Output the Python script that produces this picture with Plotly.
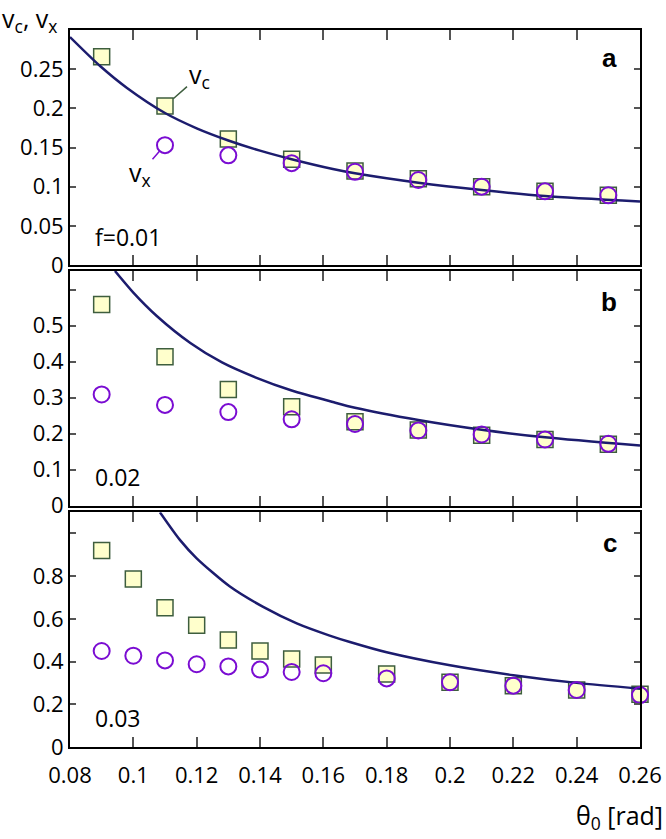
import plotly.graph_objects as go

# ---------------- data ----------------
theta_ab = [0.09, 0.11, 0.13, 0.15, 0.17, 0.19, 0.21, 0.23, 0.25]
vc_a = [0.266, 0.203, 0.161, 0.135, 0.120, 0.110, 0.100, 0.094, 0.089]
theta_vx_a = [0.11, 0.13, 0.15, 0.17, 0.19, 0.21, 0.23, 0.25]
vx_a = [0.153, 0.140, 0.130, 0.119, 0.1085, 0.100, 0.094, 0.089]

vc_b = [0.559, 0.414, 0.323, 0.275, 0.233, 0.210, 0.196, 0.184, 0.171]
vx_b = [0.309, 0.280, 0.260, 0.240, 0.227, 0.209, 0.198, 0.184, 0.172]

theta_c = [0.09, 0.10, 0.11, 0.12, 0.13, 0.14, 0.15, 0.16, 0.18, 0.20, 0.22, 0.24, 0.26]
vc_c = [0.919, 0.786, 0.652, 0.570, 0.501, 0.450, 0.413, 0.385, 0.343, 0.304, 0.288, 0.268, 0.248]
vx_c = [0.450, 0.428, 0.406, 0.388, 0.378, 0.363, 0.352, 0.346, 0.322, 0.304, 0.288, 0.268, 0.244]

curve_a_x = [0.08, 0.0895, 0.098, 0.11, 0.12, 0.13, 0.14, 0.15, 0.163, 0.17, 0.19, 0.21, 0.23, 0.26]
curve_a_y = [0.291, 0.254, 0.226, 0.194, 0.1745, 0.159, 0.146, 0.135, 0.1225, 0.117, 0.105, 0.0957, 0.088, 0.081]

curve_b_x = [0.0942, 0.1, 0.1074, 0.118, 0.128, 0.1387, 0.15, 0.163, 0.17, 0.19, 0.21, 0.23, 0.26]
curve_b_y = [0.652, 0.592, 0.527, 0.452, 0.398, 0.356, 0.320, 0.288, 0.272, 0.238, 0.211, 0.190, 0.167]

curve_c_x = [0.1084, 0.1147, 0.12, 0.1305, 0.141, 0.1516, 0.162, 0.1684, 0.18, 0.20, 0.22, 0.24, 0.26]
curve_c_y = [1.098, 0.969, 0.883, 0.751, 0.656, 0.579, 0.522, 0.492, 0.444, 0.383, 0.337, 0.301, 0.274]

x_tickvals = [0.08, 0.10, 0.12, 0.14, 0.16, 0.18, 0.20, 0.22, 0.24, 0.26]
x_ticktext = ["0.08", "0.1", "0.12", "0.14", "0.16", "0.18", "0.2", "0.22", "0.24", "0.26"]
ya_tickvals = [0, 0.05, 0.10, 0.15, 0.20, 0.25, 0.30]
ya_ticktext = ["0", "0.05", "0.1", "0.15", "0.2", "0.25", ""]
yb_tickvals = [0, 0.1, 0.2, 0.3, 0.4, 0.5, 0.6]
yb_ticktext = ["0", "0.1", "0.2", "0.3", "0.4", "0.5", ""]
yc_tickvals = [0, 0.2, 0.4, 0.6, 0.8, 1.0]
yc_ticktext = ["0", "0.2", "0.4", "0.6", "0.8", ""]

panel_labels = ["a", "b", "c"]
f_labels = ["f=0.01", "0.02", "0.03"]

# ---------------- styles ----------------
W, H = 666, 839
SQ_FILL = "#FFFFCC"
SQ_LINE = "#3E5E3E"
CIRC = "#7A0CD2"
CURVE = "#1C1C6E"
FONT = "Open Sans"

def px_x(p):
    return p / W

def px_y(p):
    return 1 - p / H

xdom = [px_x(70), px_x(640)]
ydoms = [[px_y(265), px_y(30)], [px_y(505.7), px_y(271)], [px_y(747.3), px_y(512.3)]]
yranges = [[0, 0.30], [0, 0.652], [0, 1.098]]
yticks = [(ya_tickvals, ya_ticktext), (yb_tickvals, yb_ticktext), (yc_tickvals, yc_ticktext)]

fig = go.Figure()

panels = [
    (theta_ab, vc_a, theta_vx_a, vx_a, curve_a_x, curve_a_y),
    (theta_ab, vc_b, theta_ab, vx_b, curve_b_x, curve_b_y),
    (theta_c, vc_c, theta_c, vx_c, curve_c_x, curve_c_y),
]

for i, (tx, vc, txx, vx, cx, cy) in enumerate(panels):
    xa = "x" if i == 0 else f"x{i+1}"
    ya = "y" if i == 0 else f"y{i+1}"
    fig.add_trace(go.Scatter(x=tx, y=vc, mode="markers", xaxis=xa, yaxis=ya,
                             marker=dict(symbol="square", size=16, color=SQ_FILL,
                                         line=dict(color=SQ_LINE, width=1.5)),
                             showlegend=False, cliponaxis=False))
    fig.add_trace(go.Scatter(x=cx, y=cy, mode="lines", xaxis=xa, yaxis=ya,
                             line=dict(color=CURVE, width=2.5, shape="spline", smoothing=0.7),
                             showlegend=False))
    fig.add_trace(go.Scatter(x=txx, y=vx, mode="markers", xaxis=xa, yaxis=ya,
                             marker=dict(symbol="circle-open", size=16, color=CIRC,
                                         line=dict(color=CIRC, width=2)),
                             showlegend=False, cliponaxis=False))

layout_axes = {}
for i in range(3):
    xk = "xaxis" if i == 0 else f"xaxis{i+1}"
    yk = "yaxis" if i == 0 else f"yaxis{i+1}"
    yanchor = "y" if i == 0 else f"y{i+1}"
    xanchor = "x" if i == 0 else f"x{i+1}"
    layout_axes[xk] = dict(domain=xdom, anchor=yanchor, range=[0.08, 0.26],
                           tickvals=x_tickvals, ticktext=x_ticktext, automargin=False,
                           showticklabels=(i == 2), ticks="inside", ticklen=10,
                           ticklabelstandoff=7,
                           tickcolor="#555555", tickwidth=1.5,
                           showline=True, linecolor="black", linewidth=2, mirror="ticks",
                           showgrid=False, zeroline=False,
                           tickfont=dict(family=FONT, size=22, color="black"))
    tv, tt = yticks[i]
    layout_axes[yk] = dict(domain=ydoms[i], anchor=xanchor, range=yranges[i],
                           tickvals=tv, ticktext=tt, ticks="inside", ticklen=6,
                           automargin=False,
                           tickcolor="#555555", tickwidth=1.5,
                           showline=True, linecolor="black", linewidth=2, mirror="ticks",
                           showgrid=False, zeroline=False,
                           tickfont=dict(family=FONT, size=22, color="black"))

annotations = []
label_y = [58, 302, 543]
f_y = [237, 477, 718]
for i in range(3):
    annotations.append(dict(text="<b>" + panel_labels[i] + "</b>", x=px_x(619), y=px_y(label_y[i]),
                            xref="paper", yref="paper", xanchor="right", yanchor="middle",
                            showarrow=False,
                            font=dict(family="Liberation Sans", size=26, color="black")))
    annotations.append(dict(text=f_labels[i], x=px_x(93), y=px_y(f_y[i]),
                            xref="paper", yref="paper", xanchor="left", yanchor="middle",
                            showarrow=False, font=dict(family=FONT, size=23, color="black")))

# leader-line labels
annotations.append(dict(text="v<sub>c</sub>", x=theta_ab[1], y=vc_a[1], xref="x", yref="y",
                        ax=34, ay=-30, showarrow=True, arrowhead=0, arrowwidth=1.5,
                        arrowcolor=SQ_LINE, standoff=11,
                        font=dict(family=FONT, size=25, color="black")))
annotations.append(dict(text="v<sub>x</sub>", x=theta_vx_a[0], y=vx_a[0], xref="x", yref="y",
                        ax=-25, ay=28, showarrow=True, arrowhead=0, arrowwidth=1.5,
                        arrowcolor=CIRC, standoff=8,
                        font=dict(family=FONT, size=25, color="black")))

annotations.append(dict(text="v<sub>c</sub>, v<sub>x</sub>", x=0, y=px_y(20),
                        xref="paper", yref="paper", xanchor="left", yanchor="middle",
                        showarrow=False, font=dict(family=FONT, size=25, color="black")))
annotations.append(dict(text="θ<sub>0</sub> [rad]", x=px_x(665), y=px_y(816),
                        xref="paper", yref="paper", xanchor="right", yanchor="middle",
                        showarrow=False, font=dict(family=FONT, size=25, color="black")))

fig.update_layout(width=W, height=H, margin=dict(l=0, r=0, t=0, b=0),
                  paper_bgcolor="white", plot_bgcolor="white",
                  annotations=annotations, **layout_axes)

fig.write_html("out.html", config={"displayModeBar": False},
               post_script="document.body.style.margin='0';document.body.style.overflow='hidden';")
